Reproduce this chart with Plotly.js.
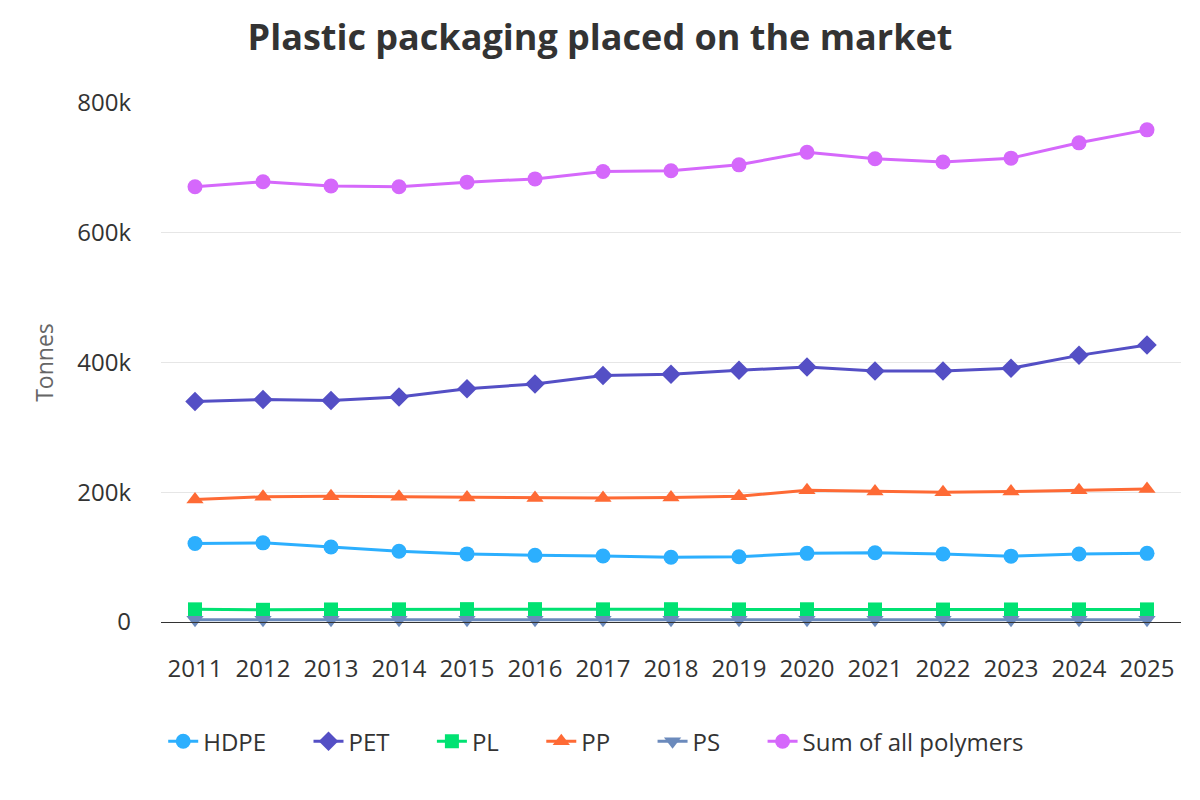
<!DOCTYPE html>
<html>
<head>
<meta charset="utf-8">
<script src="https://cdn.plot.ly/plotly-3.0.1.min.js"></script>
<style>
html,body{margin:0;padding:0;background:#fff;}
#chart{width:1200px;height:800px;outline:1px solid #cccccc;outline-offset:-1px;}
</style>
</head>
<body>
<div id="chart"></div>
<script>
const years = ["2011","2012","2013","2014","2015","2016","2017","2018","2019","2020","2021","2022","2023","2024","2025"];
const hdpe = [121000,122000,115500,109000,105000,102700,101700,99700,100600,105800,106800,104800,101500,104800,105800];
const pet  = [340000,343000,341600,347000,359500,367000,380000,381700,388000,393000,387000,387000,391000,411000,427000];
const pl   = [19500,18800,19300,19500,19800,19800,19500,19700,19400,19600,19300,19200,19300,19400,19400];
const pp   = [189000,193000,194000,193000,192000,191000,191000,192000,194000,203000,201000,200000,201000,203000,205000];
const ps   = [3500,3400,3500,3500,3500,3400,3400,3500,3400,3500,3400,3400,3400,3400,3400];
const sum  = [671000,678500,672000,671000,678000,683000,694500,695500,704700,724000,714000,709000,715000,738600,758600];

const seriesNames = ["HDPE","PET","PL","PP","PS","Sum of all polymers"];
const seriesData = [hdpe, pet, pl, pp, ps, sum];
const colors = ["#2caffe","#544fc5","#00e272","#fe6a35","#6b8abc","#d568fb"];
const symbols = ["circle","diamond","square","triangle-up","triangle-down","circle"];
const sizes = [15,15,14,15,15,15];

const FONT = "'Open Sans', 'Noto Sans', sans-serif";
const PAD = "\u00a0\u00a0\u00a0\u00a0\u00a0\u00a0";

const traces = seriesNames.map((n,i)=>({
  type:"scatter",
  mode:"lines+markers",
  name: i < seriesNames.length-1 ? n + PAD : n,
  x:years,
  y:seriesData[i],
  line:{color:colors[i],width:3},
  marker:{color:colors[i],symbol:symbols[i],size:sizes[i]},
  cliponaxis:false,
  hovertemplate:"%{x}: %{y}<extra>"+n+"</extra>"
}));

const layout = {
  width:1200,height:800,
  paper_bgcolor:"#ffffff",plot_bgcolor:"#ffffff",
  margin:{l:161,r:19,t:103,b:178},
  font:{family:FONT,color:"#333333",size:24},
  title:{text:"<b>Plastic packaging placed on the market</b>",x:0.5,xref:"container",xanchor:"center",y:0.953,yref:"container",yanchor:"middle",font:{family:FONT,size:36,color:"#333333"}},
  xaxis:{type:"category",range:[-0.5,14.5],showgrid:false,showline:true,linecolor:"#333333",linewidth:1,ticks:"",tickfont:{size:24,color:"#333333"},ticklabelstandoff:25,fixedrange:true,automargin:false},
  yaxis:{range:[0,800000],tickvals:[0,200000,400000,600000,800000],ticktext:["0","200k","400k","600k","800k"],showgrid:true,gridcolor:"#e6e6e6",gridwidth:1,zeroline:true,zerolinecolor:"#333333",zerolinewidth:1,ticks:"",tickfont:{size:24,color:"#333333"},ticklabelstandoff:29,title:{text:"Tonnes",font:{size:23,color:"#666666"},standoff:17},automargin:false,fixedrange:true},
  legend:{orientation:"h",xref:"container",yref:"container",x:0.136,xanchor:"left",y:0.073,yanchor:"middle",font:{size:24,color:"#333333"},itemwidth:30,tracegroupgap:0},
  showlegend:true
};

Plotly.newPlot("chart",traces,layout,{displayModeBar:false});
</script>
</body>
</html>
